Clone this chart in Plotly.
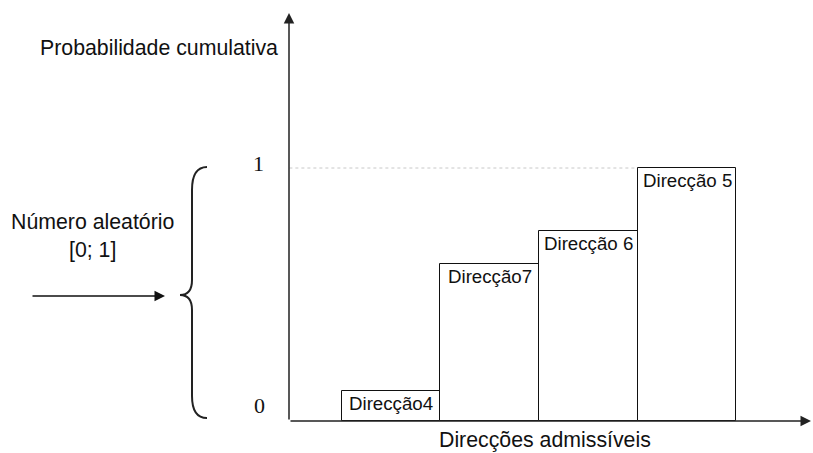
import plotly.graph_objects as go

# ---- data ----
categories = ["Direcção4", "Direcção7", "Direcção 6", "Direcção 5"]
cumulative_prob = [0.12, 0.62, 0.75, 1.0]
ytick_labels = ["0", "1"]

W, H = 813, 453
SANS = "Liberation Sans, Arial, sans-serif"
SERIF = "Liberation Serif, Times New Roman, serif"

# pixel -> paper helpers for decorations
def px(x):
    return x / W

def py(y):
    return 1 - y / H

fig = go.Figure()
xpos = list(range(len(categories)))
fig.add_trace(go.Bar(
    x=xpos, y=cumulative_prob, width=1,
    marker=dict(color="white", line=dict(color="#111", width=1)),
    hoverinfo="skip", showlegend=False,
))

# bar labels, centred near the top inside each bar
annotations = []
for xi, (name, v) in enumerate(zip(categories, cumulative_prob)):
    annotations.append(dict(x=xi, y=v, xref="x", yref="y", text=name,
                            showarrow=False, xanchor="center", yanchor="top",
                            yshift=0, font=dict(family=SANS, size=18.7, color="#111")))

# axes arrows
annotations.append(dict(x=px(289), y=py(13), xref="paper", yref="paper",
                        ax=0, ay=408, axref="pixel", ayref="pixel", showarrow=True,
                        arrowhead=2, arrowsize=1.4, arrowwidth=1.5, arrowcolor="#222", text=""))
annotations.append(dict(x=px(811), y=py(421), xref="paper", yref="paper",
                        ax=-522, ay=0, axref="pixel", ayref="pixel", showarrow=True,
                        arrowhead=2, arrowsize=1.4, arrowwidth=1.5, arrowcolor="#222", text=""))
# input arrow
annotations.append(dict(x=px(165), y=py(296), xref="paper", yref="paper",
                        ax=-134, ay=0, axref="pixel", ayref="pixel", showarrow=True,
                        arrowhead=2, arrowsize=1.4, arrowwidth=1.5, arrowcolor="#111", text=""))

# texts
annotations.append(dict(x=px(159), y=py(48), xref="paper", yref="paper",
                        text="Probabilidade cumulativa", showarrow=False,
                        xanchor="center", yanchor="middle",
                        font=dict(family=SANS, size=21.3, color="#111")))
annotations.append(dict(x=px(545), y=py(440), xref="paper", yref="paper",
                        text="Direcções admissíveis", showarrow=False,
                        xanchor="center", yanchor="middle",
                        font=dict(family=SANS, size=21.3, color="#111")))
annotations.append(dict(x=px(92), y=py(236), xref="paper", yref="paper",
                        text="Número aleatório<br>[0; 1]", showarrow=False,
                        xanchor="center", yanchor="middle",
                        font=dict(family=SANS, size=21.3, color="#111")))
annotations.append(dict(x=px(258), y=py(163), xref="paper", yref="paper",
                        text=ytick_labels[1], showarrow=False,
                        xanchor="center", yanchor="middle",
                        font=dict(family=SERIF, size=22, color="#111")))
annotations.append(dict(x=px(259), y=py(405), xref="paper", yref="paper",
                        text=ytick_labels[0], showarrow=False,
                        xanchor="center", yanchor="middle",
                        font=dict(family=SERIF, size=22, color="#111")))

# brace path
pts = "M {},{} Q {},{} {},{} L {},{} Q {},{} {},{} Q {},{} {},{} L {},{} Q {},{} {},{}".format(
    px(207), py(167), px(192), py(167), px(192), py(190),
    px(192), py(280), px(192), py(295), px(180), py(295),
    px(192), py(295), px(192), py(310),
    px(192), py(396), px(192), py(418), px(207), py(418))

shapes = [
    dict(type="path", path=pts, xref="paper", yref="paper",
         line=dict(color="#222", width=2)),
    # dotted guide at probability 1, up to left edge of last bar
    dict(type="line", xref="x", yref="y", x0=-1.03, x1=len(categories) - 1.5,
         y0=max(cumulative_prob), y1=max(cumulative_prob),
         line=dict(color="#c8c8c8", width=1, dash="dot"), layer="below"),
]

unit_x = 98.67
x_center0 = 391
unit_y = 253
y_zero = 421

fig.update_layout(
    width=W, height=H, margin=dict(l=0, r=0, t=0, b=0),
    paper_bgcolor="white", plot_bgcolor="white",
    xaxis=dict(range=[-x_center0 / unit_x, (W - x_center0) / unit_x], visible=False, fixedrange=True),
    yaxis=dict(range=[-(H - y_zero) / unit_y, y_zero / unit_y], visible=False, fixedrange=True),
    annotations=annotations, shapes=shapes, bargap=0, hovermode=False,
)

fig.write_html("out.html", config={"displayModeBar": False},
               post_script="document.body.style.margin='0';document.body.style.overflow='hidden';")
